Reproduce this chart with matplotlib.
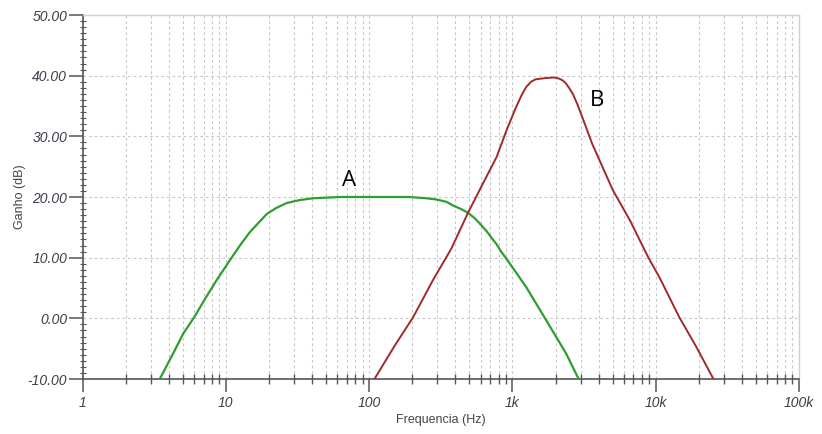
import matplotlib
matplotlib.use("Agg")
import matplotlib.pyplot as plt
from matplotlib.ticker import LogLocator, MultipleLocator, FixedLocator, NullFormatter

# Curve A (green) - frequency (Hz) / gain (dB)
freq_a = [3.46, 4.2, 5.05, 6.02, 7.2, 8.63, 10.97, 12.8, 14.7, 17.3, 19.3, 22.5, 26.6,
          30.0, 33.0, 40.5, 62.6, 118, 190, 250, 294, 347, 385, 440, 490, 540, 588,
          659, 720, 776, 840, 910, 1245, 1720, 2370, 2900]
gain_a = [-10.0, -6.2, -2.5, 0.2, 3.3, 6.3, 10.0, 12.3, 14.2, 16.0, 17.2, 18.2, 19.0,
          19.3, 19.5, 19.8, 20.0, 20.0, 20.0, 19.8, 19.6, 19.2, 18.6, 18.0, 17.4, 16.6, 15.7,
          14.4, 13.2, 12.2, 10.9, 9.8, 5.2, -0.3, -5.8, -10.0]

# Curve B (dark red)
freq_b = [109, 150, 203, 279, 375, 490, 622, 776, 910, 1060, 1160, 1245, 1350, 1450,
          1700, 1960, 2130, 2250, 2370, 2500, 2640, 2850, 3070, 3600, 5030, 6630, 8850,
          10600, 14600, 19200, 25300]
gain_b = [-10.0, -4.6, 0.2, 6.3, 11.5, 17.4, 22.2, 26.6, 31.0, 34.8, 36.8, 38.1, 39.0, 39.4,
          39.6, 39.7, 39.5, 39.2, 38.7, 37.9, 37.0, 35.2, 33.2, 28.8, 21.1, 16.1, 10.1,
          6.8, 0.2, -4.7, -10.0]

x_ticks = [1, 10, 100, 1000, 10000, 100000]
x_labels = ["1", "10", "100", "1k", "10k", "100k"]
y_ticks = [-10, 0, 10, 20, 30, 40, 50]

fig = plt.figure(figsize=(8.22, 4.34), dpi=100)
ax = fig.add_axes([0.1004, 0.1267, 0.8716, 0.8387])

ax.plot(freq_a, gain_a, color="#2f9e2f", linewidth=1.6, zorder=3,
        solid_joinstyle="round", solid_capstyle="round")
ax.plot(freq_b, gain_b, color="#a02a2a", linewidth=1.4, zorder=3,
        solid_joinstyle="round", solid_capstyle="round")

ax.set_xscale("log")
ax.set_xlim(1, 100000)
ax.set_ylim(-10, 50)

ax.xaxis.set_major_locator(FixedLocator(x_ticks))
ax.set_xticklabels(x_labels)
ax.xaxis.set_minor_locator(LogLocator(base=10, subs=range(2, 10), numticks=20))
ax.xaxis.set_minor_formatter(NullFormatter())
ax.set_yticks(y_ticks)
ax.set_yticklabels(["%.2f" % v for v in y_ticks])
ax.yaxis.set_minor_locator(MultipleLocator(1))

grid_kw = dict(color="#c8c8c8", linestyle=(0, (2.5, 2.5)), linewidth=0.8)
ax.grid(True, which="major", axis="both", **grid_kw)
ax.grid(True, which="minor", axis="x", **grid_kw)
ax.set_axisbelow(True)

for s in ["top", "right"]:
    ax.spines[s].set_color("#d0d0d0")
    ax.spines[s].set_linewidth(1.0)
for s in ["left", "bottom"]:
    ax.spines[s].set_color("#555555")
    ax.spines[s].set_linewidth(1.2)

lab_color = "#3c3c48"
ax.tick_params(axis="x", which="major", direction="out", length=9, width=1.1,
               color="#555555", labelsize=10, labelcolor=lab_color, pad=3)
ax.tick_params(axis="x", which="minor", direction="inout", length=7, width=1.0, color="#555555")
ax.tick_params(axis="y", which="major", direction="out", length=10, width=1.1,
               color="#555555", labelsize=10, labelcolor=lab_color, pad=1)
ax.tick_params(axis="y", which="minor", direction="inout", length=4, width=0.8, color="#555555")
for t in ax.get_xticklabels() + ax.get_yticklabels():
    t.set_fontstyle("italic")
    t.set_family("Liberation Sans")

ax.set_xlabel("Frequencia (Hz)", fontsize=9, color="#444444", family="Liberation Sans", labelpad=3)
ax.set_ylabel("Ganho (dB)", fontsize=9, color="#444444", family="Liberation Sans", labelpad=1)

ax.text(73, 22.7, "A", fontsize=16, color="black", ha="center", va="center", family="Open Sans")
ax.text(3870, 35.9, "B", fontsize=16, color="black", ha="center", va="center", family="Open Sans")

fig.savefig("out.png", dpi=100)
